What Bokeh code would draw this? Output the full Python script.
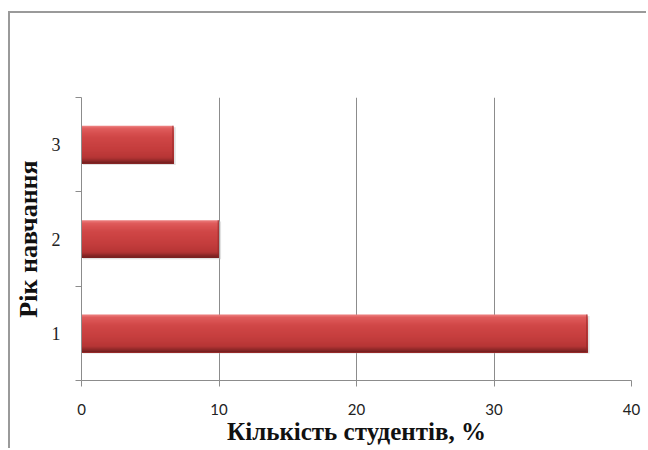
from bokeh.plotting import figure
from bokeh.models import FixedTicker, Range1d
from bokeh.embed import file_html
from bokeh.resources import INLINE

years = [1, 2, 3]
year_labels = ["1", "2", "3"]
values = [36.8, 10.0, 6.7]
x_ticks = [0, 10, 20, 30, 40]

BAR_H = 0.40

p = figure(width=638, height=437, output_backend="svg", toolbar_location=None,
           x_range=Range1d(0, 40), y_range=Range1d(0.5, 3.5),
           min_border_left=70, min_border_right=17, min_border_top=84, min_border_bottom=70)
p.styles = {"border-left": "2px solid #9a9a9a", "border-top": "2px solid #9a9a9a",
            "margin-left": "8px", "margin-top": "11px"}
p.outline_line_color = None
p.background_fill_color = "white"
p.border_fill_color = "white"

# grid
p.ygrid.grid_line_color = None
p.xgrid.ticker = FixedTicker(ticks=x_ticks)
p.xgrid.grid_line_color = "#8c8c8c"
p.xgrid.grid_line_width = 1

# shadow
p.hbar(y=[y - 0.015 for y in years], right=[v + 0.15 for v in values], left=0.1,
       height=BAR_H, fill_color="#c4c4c4", line_color=None, fill_alpha=0.5)

# bar body as smooth vertical gradient (styling only): overlapping layers, no seams
def mix(c1, c2, t):
    a = [int(c1[i:i + 2], 16) for i in (1, 3, 5)]
    b = [int(c2[i:i + 2], 16) for i in (1, 3, 5)]
    return "#%02x%02x%02x" % tuple(round(a[k] + (b[k] - a[k]) * t) for k in range(3))

stops = [(0.0, "#ee8585"), (0.07, "#e05c5c"), (0.3, "#d04646"), (0.6, "#c53e3e"),
         (0.84, "#b63535"), (0.93, "#8e2828"), (1.0, "#6e1e1e")]
N = 30
for i in range(N):
    t = i / N
    tc = (i + 0.5) / N
    for j in range(len(stops) - 1):
        if stops[j][0] <= tc <= stops[j + 1][0]:
            tt = (tc - stops[j][0]) / (stops[j + 1][0] - stops[j][0])
            col = mix(stops[j][1], stops[j + 1][1], tt)
            break
    h = BAR_H * (1 - t)
    ys = [y - BAR_H / 2 + h / 2 for y in years]
    p.hbar(y=ys, right=values, left=0, height=h, fill_color=col, line_color=None)
# right end darker edge
p.hbar(y=years, right=values, left=[v - 0.1 for v in values], height=BAR_H,
       fill_color="#8e2626", line_color=None, fill_alpha=0.6)

# x axis
xa = p.xaxis[0]
xa.ticker = FixedTicker(ticks=x_ticks)
xa.axis_line_color = "#8c8c8c"
xa.major_tick_line_color = "#8c8c8c"
xa.major_tick_out = 6
xa.major_tick_in = 0
xa.minor_tick_line_color = None
xa.major_label_text_font = "Lato"
xa.major_label_text_font_size = "15px"
xa.major_label_text_color = "#222222"
xa.major_label_standoff = 17
xa.axis_label = "Кількість студентів, %"
xa.axis_label_text_font = "Liberation Serif"
xa.axis_label_text_font_style = "bold"
xa.axis_label_text_font_size = "25px"
xa.axis_label_text_color = "#111111"
xa.axis_label_standoff = 0

# y axis
ya = p.yaxis[0]
ya.ticker = FixedTicker(ticks=years, minor_ticks=[0.5, 1.5, 2.5, 3.5])
ya.major_label_overrides = {y: l for y, l in zip(years, year_labels)}
ya.axis_line_color = "#8c8c8c"
ya.major_tick_line_color = None
ya.major_tick_out = 0
ya.major_tick_in = 0
ya.minor_tick_line_color = "#8c8c8c"
ya.minor_tick_out = 6
ya.minor_tick_in = 0
ya.major_label_text_font = "Liberation Serif"
ya.major_label_text_font_size = "18px"
ya.major_label_text_color = "#222222"
ya.major_label_standoff = 15
ya.axis_label = "Рік навчання"
ya.axis_label_text_font = "Liberation Serif"
ya.axis_label_text_font_style = "bold"
ya.axis_label_text_font_size = "26px"
ya.axis_label_text_color = "#111111"
ya.axis_label_standoff = 6

open("out.html", "w").write(file_html(p, INLINE))
